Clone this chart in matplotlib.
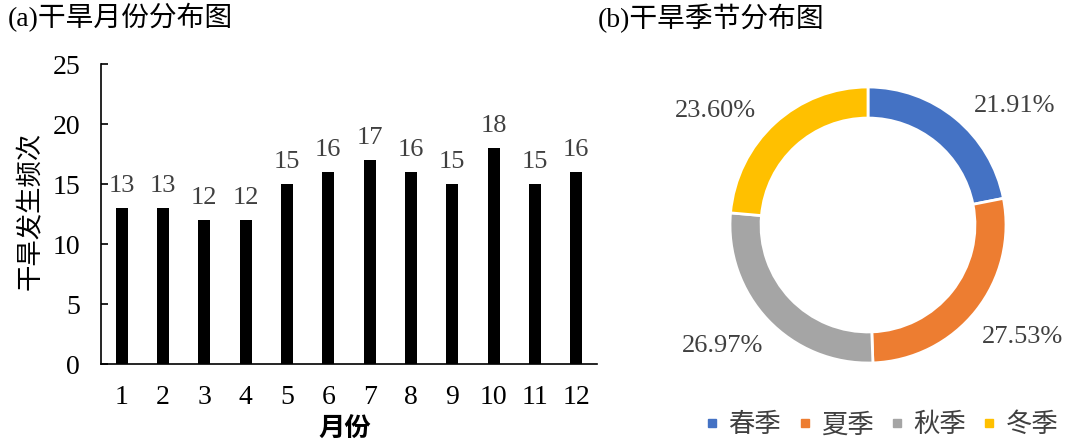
import numpy as np
import matplotlib.pyplot as plt
from matplotlib.lines import Line2D

plt.rcParams['font.family'] = ['Liberation Serif', 'Noto Sans CJK SC']
plt.rcParams['axes.unicode_minus'] = False

# monthly drought counts
months = list(range(1, 13))
counts = [13, 13, 12, 12, 15, 16, 17, 16, 15, 18, 15, 16]

# seasonal share (%)
seasons = ['春季', '夏季', '秋季', '冬季']
shares = [21.91, 27.53, 26.97, 23.60]
season_colors = ['#4472C4', '#ED7D31', '#A5A5A5', '#FFC000']

fig = plt.figure(figsize=(10.71, 4.48), dpi=100)

# ---- (a) bar chart
ax = fig.add_axes([101 / 1071, 1 - 364 / 448, 496 / 1071, 300 / 448])
bars = ax.bar(months, counts, width=0.29, color='black')
for b, v in zip(bars, counts):
    ax.annotate(str(v), (b.get_x() + b.get_width() / 2, v), xytext=(0, 8),
                textcoords='offset points', ha='center', va='bottom',
                fontsize=19, color='#404040')
ax.set_xlim(0.5, 12.5)
ax.set_ylim(0, 25)
ax.set_yticks(range(0, 26, 5))
ax.set_xticks(months)
ax.spines['top'].set_visible(False)
ax.spines['right'].set_visible(False)
for s in ('left', 'bottom'):
    ax.spines[s].set_linewidth(1.2)
ax.tick_params(axis='y', direction='in', length=5, width=1.2, pad=15, labelsize=20)
ax.tick_params(axis='x', length=0, pad=15, labelsize=20)
ax.set_ylabel('干旱发生频次', fontsize=19)
ax.yaxis.set_label_coords(-0.117, 0.51)
ax.set_xlabel('月份', fontsize=19, fontweight='bold')
ax.xaxis.set_label_coords(0.492, -0.18)
fig.text(8 / 1071, 1 - 18 / 448, '(a)干旱月份分布图', fontsize=20, va='center', ha='left')

# ---- (b) donut chart
cx, cy, r = 868, 225, 138
half = 200
ax2 = fig.add_axes([(cx - half) / 1071, 1 - (cy + half) / 448, 2 * half / 1071, 2 * half / 448])
wedges, _ = ax2.pie(shares, colors=season_colors, startangle=90, counterclock=False, radius=1,
                    wedgeprops=dict(width=0.225, edgecolor='white', linewidth=2))
# percentage labels just outside each wedge, anchored by the corner nearest the ring
for w, p in zip(wedges, shares):
    mid = np.deg2rad((w.theta1 + w.theta2) / 2 - 4 * np.sign(np.cos(np.deg2rad((w.theta1 + w.theta2) / 2))))
    x, y = 1.12 * np.cos(mid), 1.08 * np.sin(mid)
    ax2.text(x, y, f'{p:.2f}%', fontsize=19, color='#404040',
             ha='left' if x > 0 else 'right', va='bottom' if y > 0 else 'top')
lim = half / r
ax2.set_xlim(-lim, lim)
ax2.set_ylim(-lim, lim)
ax2.set_aspect('equal')
ax2.axis('off')
fig.text(598 / 1071, 1 - 18 / 448, '(b)干旱季节分布图', fontsize=20, va='center', ha='left')

handles = [Line2D([], [], marker='s', linestyle='', markersize=6, color=c) for c in season_colors]
fig.legend(handles, seasons, loc='center', bbox_to_anchor=(880 / 1071, 1 - 425 / 448), ncol=4,
           frameon=False, fontsize=19, handletextpad=0.2, columnspacing=0.5, handlelength=0.8,
           labelcolor='#404040')

fig.savefig('out.png', dpi=100)
